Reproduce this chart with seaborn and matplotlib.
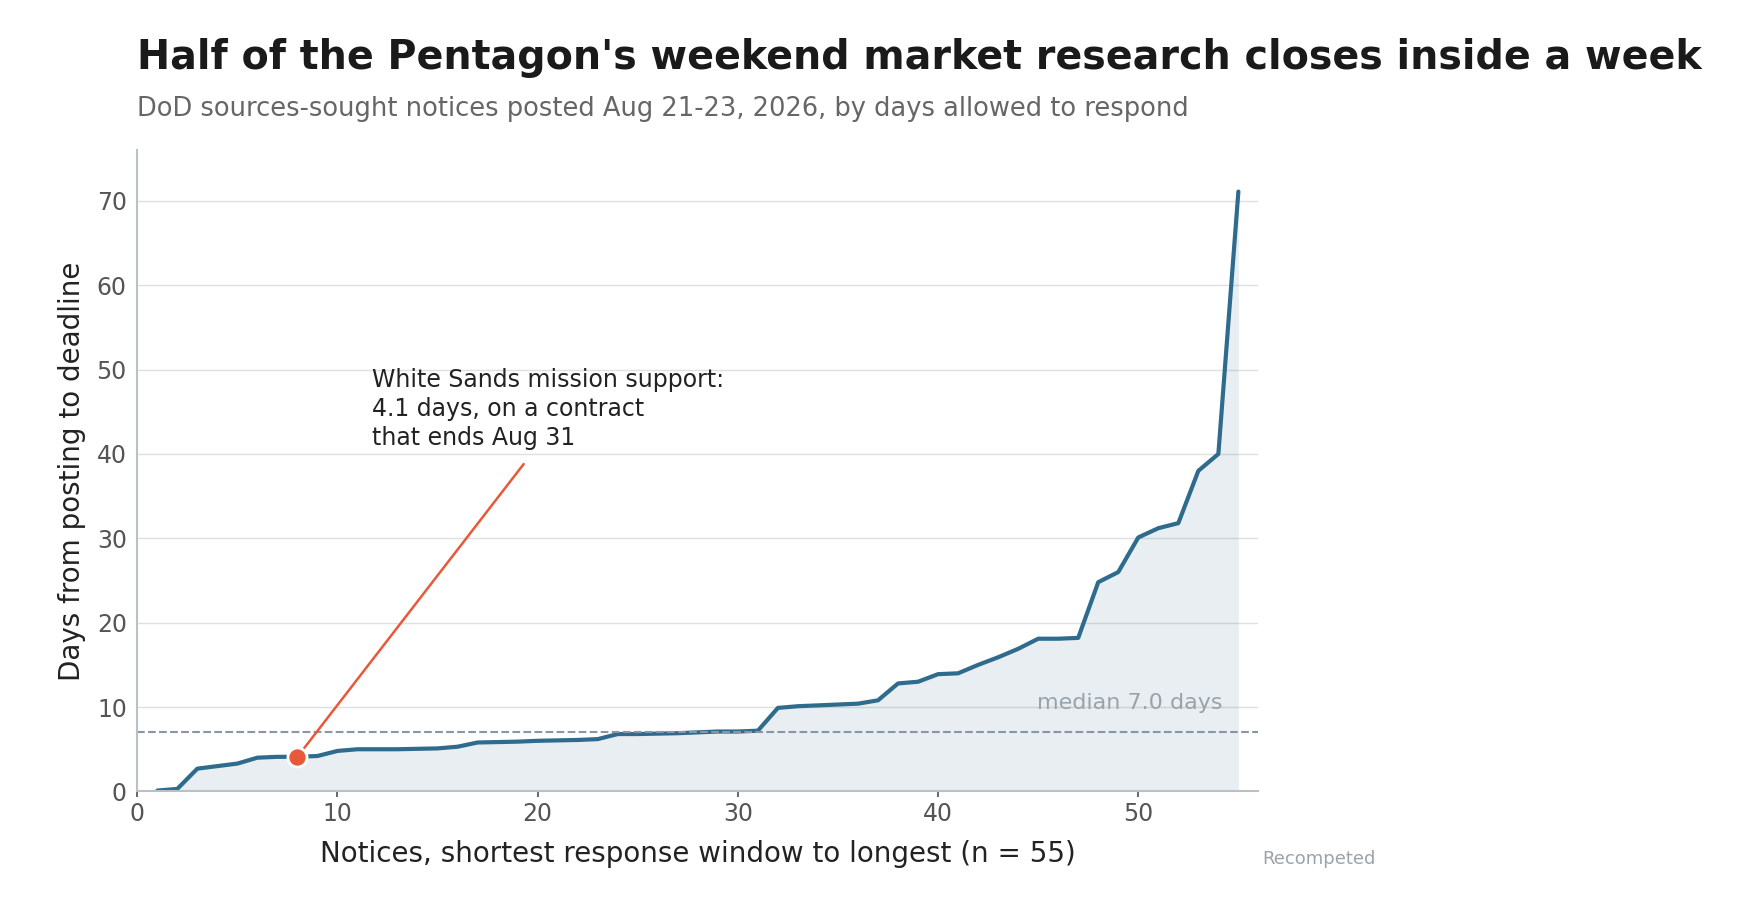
import numpy as np
import pandas as pd
import matplotlib
matplotlib.use('Agg')
import matplotlib.pyplot as plt
import seaborn as sns

# response window (days) per notice, sorted shortest to longest
rank = list(range(1, 56))
days = [0.1, 0.3, 2.7, 3.0, 3.3, 4.0, 4.1, 4.1, 4.2, 4.8,
        5.0, 5.0, 5.0, 5.05, 5.1, 5.3, 5.8, 5.85, 5.9, 6.0,
        6.05, 6.1, 6.2, 6.8, 6.8, 6.85, 6.9, 7.0, 7.1, 7.1,
        7.2, 9.9, 10.1, 10.2, 10.3, 10.4, 10.8, 12.8, 13.0, 13.9,
        14.0, 15.0, 15.9, 16.9, 18.1, 18.1, 18.2, 24.8, 26.0, 30.1,
        31.2, 31.8, 38.0, 40.0, 71.1]
highlight_rank = 8
highlight_days = 4.1
median_days = 7.0

df = pd.DataFrame({'rank': rank, 'days': days})

sns.set_theme(style='white')
plt.rcParams['font.family'] = ['DejaVu Sans']

fig = plt.figure(figsize=(17.6, 9.16), dpi=100)
ax = fig.add_axes([0.078, 0.136, 0.637, 0.70])

line_col = '#2e6b8c'
ax.fill_between(df['rank'], df['days'], color=line_col, alpha=0.11, lw=0)
sns.lineplot(data=df, x='rank', y='days', ax=ax, color=line_col, lw=3)
ax.axhline(median_days, color='#8a96a3', ls='--', lw=1.5)
ax.text(54.2, median_days + 2.3, 'median 7.0 days', color='#9aa3ab',
        fontsize=16, ha='right', va='bottom')

# annotation: connector from the label down to the highlighted point
ax.annotate('', xy=(highlight_rank, highlight_days), xytext=(19.3, 38.8),
            arrowprops=dict(arrowstyle='-', color='#e8593a', lw=1.8,
                            shrinkA=0, shrinkB=7))
ax.text(11.7, 40.5, 'White Sands mission support:\n4.1 days, on a contract\nthat ends Aug 31',
        fontsize=17, color='#222222', va='bottom', ha='left', linespacing=1.25)
ax.scatter([highlight_rank], [highlight_days], s=190, color='#e8593a',
           edgecolor='white', linewidth=2, zorder=5)

ax.set_xlim(0, 56)
ax.set_ylim(0, 76)
ax.set_yticks(range(0, 80, 10))
ax.set_xticks(range(0, 60, 10))
ax.grid(axis='y', color='#e0e0e0', lw=1)
ax.tick_params(labelsize=17, colors='#555555', length=4, left=False, bottom=True)
for s in ['top', 'right']:
    ax.spines[s].set_visible(False)
for s in ['left', 'bottom']:
    ax.spines[s].set_color('#b8c0c8')
    ax.spines[s].set_linewidth(1.5)
ax.set_xlabel('Notices, shortest response window to longest (n = 55)', fontsize=20,
              color='#222222', labelpad=10)
ax.set_ylabel('Days from posting to deadline', fontsize=20, color='#222222', labelpad=8)

fig.text(0.078, 0.925, "Half of the Pentagon's weekend market research closes inside a week",
         fontsize=28.5, fontweight='bold', color='#1a1a1a')
fig.text(0.078, 0.873, 'DoD sources-sought notices posted Aug 21-23, 2026, by days allowed to respond',
         fontsize=18.5, color='#666666')
fig.text(0.717, 0.057, 'Recompeted', fontsize=13, color='#9aa3ab')

fig.savefig('out.png', dpi=100)
